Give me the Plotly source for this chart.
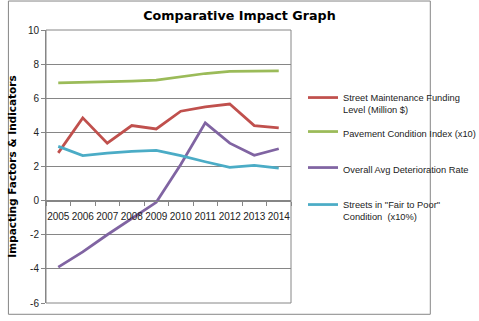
import plotly.graph_objects as go

years = ["2005", "2006", "2007", "2008", "2009", "2010", "2011", "2012", "2013", "2014"]

funding = [2.8, 4.85, 3.37, 4.4, 4.2, 5.24, 5.5, 5.66, 4.4, 4.27]
pci_x10 = [6.9, 6.92, 6.98, 7.0, 7.06, 7.24, 7.45, 7.57, 7.6, 7.6]
deterioration = [-3.9, -3.0, -2.0, -1.05, -0.1, 2.12, 4.56, 3.37, 2.66, 3.04]
fair_poor_x10 = [3.18, 2.64, 2.78, 2.89, 2.95, 2.64, 2.28, 1.95, 2.06, 1.91]

series_names = [
    "Street Maintenance Funding<br>Level (Million $)",
    "Pavement Condition Index (x10)",
    "Overall Avg Deterioration Rate",
    "Streets in \"Fair to Poor\"<br>Condition  (x10%)",
]
series_values = [funding, pci_x10, deterioration, fair_poor_x10]
series_colors = ["#C0504D", "#9BBB59", "#8064A2", "#4BACC6"]
legend_ids = ["legend", "legend2", "legend3", "legend4"]

y_ticks = [10, 8, 6, 4, 2, 0, -2, -4, -6]
y_tick_text = ["10", "8", "6", "4", "2", "0", "-2", "-4", "-6"]

W, H = 479, 321
L, R, T, B = 43, 159, 30, 13

fig = go.Figure()
for name, vals, col, lg in zip(series_names, series_values, series_colors, legend_ids):
    fig.add_trace(go.Scatter(
        x=years, y=vals, mode="lines", name=name,
        line=dict(color=col, width=2.75),
        legend=lg,
    ))

font_main = "DejaVu Sans"
font_small = "Liberation Sans"
gray = "#868686"

# legend rows: top edge of each legend box in pixels from the top
legend_tops = [85, 119, 155, 192]
legend_cfg = {}
for lg, top in zip(legend_ids, legend_tops):
    legend_cfg[lg] = dict(
        x=303 / W, xref="container", xanchor="left",
        y=1 - top / H, yref="container", yanchor="top",
        bgcolor="rgba(0,0,0,0)", borderwidth=0,
        font=dict(family=font_small, size=9.3, color="#222"),
        valign="top",
    )

y0_frac = 6 / 16  # where y = 0 sits inside the plot area

fig.update_layout(
    width=W, height=H,
    margin=dict(l=L, r=R, t=T, b=B),
    paper_bgcolor="white", plot_bgcolor="white",
    showlegend=True,
    title=dict(
        text="<b>Comparative Impact Graph</b>",
        x=0.5, xref="container", xanchor="center",
        y=1 - 16 / H, yref="container", yanchor="middle",
        font=dict(family=font_main, size=12.7, color="black"),
    ),
    xaxis=dict(
        type="category", range=[-0.5, 9.5],
        anchor="free", position=y0_frac,
        showline=True, linecolor=gray, linewidth=1,
        ticks="outside", ticklen=4, tickcolor=gray, tickson="boundaries",
        tickangle=0, ticklabelstandoff=6,
        showgrid=False, zeroline=False,
        tickfont=dict(family=font_small, size=10, color="#222"),
    ),
    yaxis=dict(
        range=[-6, 10], tickvals=y_ticks, ticktext=y_tick_text,
        showline=True, linecolor=gray, linewidth=1,
        ticks="outside", ticklen=4, tickcolor=gray,
        showgrid=True, gridcolor=gray, gridwidth=1,
        zeroline=False,
        tickfont=dict(family=font_small, size=10, color="#222"),
        title=dict(
            text="<b>Impacting Factors & Indicators</b>",
            font=dict(family=font_main, size=10.5, color="black"),
            standoff=9,
        ),
    ),
    shapes=[
        # plot area frame
        dict(type="rect", xref="paper", yref="paper", x0=0, x1=1, y0=0, y1=1,
             line=dict(color=gray, width=1), layer="above"),
        # chart outer frame
        dict(type="rect", xref="paper", yref="paper",
             x0=-(L - 0.5) / (W - L - R), x1=1 + (R - 1.5) / (W - L - R),
             y0=-(B - 1.5) / (H - T - B), y1=1 + (T - 0.5) / (H - T - B),
             line=dict(color=gray, width=1)),
    ],
    **legend_cfg,
)

fig.write_html("out.html")
